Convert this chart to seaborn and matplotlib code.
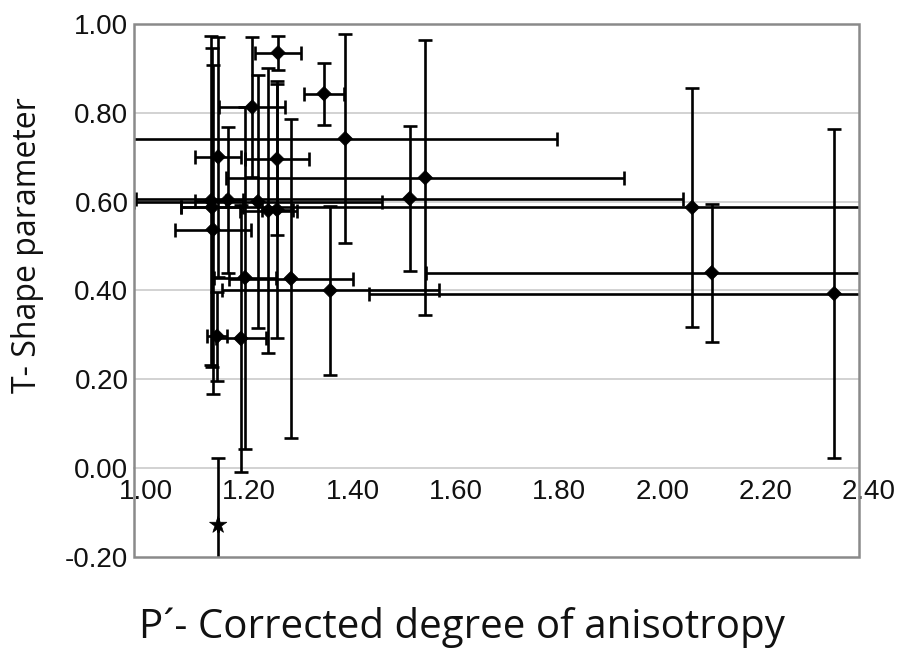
import matplotlib
matplotlib.use("Agg")
import matplotlib.pyplot as plt
import seaborn as sns
import numpy as np
import pandas as pd
from matplotlib.patches import Rectangle
from matplotlib.transforms import ScaledTranslation

# ---- data ----
p_corr = [1.147, 1.145, 1.149, 1.159, 1.157, 1.159, 1.178, 1.236, 1.256, 1.273,
          1.275, 1.225, 1.273, 1.211, 1.203, 1.364, 1.405, 2.077, 1.530, 1.560,
          2.115, 2.352, 1.376, 1.300]
t_shape = [0.587, 0.602, 0.537, 0.701, 0.297, -0.128, 0.604, 0.600, 0.580, 0.582,
           0.935, 0.813, 0.696, 0.429, 0.292, 0.843, 0.742, 0.587, 0.607, 0.654,
           0.440, 0.393, 0.400, 0.427]
p_err = [0.060, 0.030, 0.073, 0.045, 0.020, 0.000, 0.030, 0.240, 0.055, 0.030,
         0.044, 0.064, 0.062, 0.060, 0.048, 0.038, 0.410, 0.990, 0.530, 0.385,
         0.553, 0.900, 0.210, 0.120]
t_err = [0.360, 0.370, 0.370, 0.270, 0.100, 0.150, 0.165, 0.285, 0.320, 0.290,
         0.038, 0.157, 0.170, 0.385, 0.300, 0.070, 0.235, 0.270, 0.163, 0.310,
         0.155, 0.370, 0.190, 0.360]
kind = ["n"] * 5 + ["o"] + ["n"] * 18

x_ticks = [1.00, 1.20, 1.40, 1.60, 1.80, 2.00, 2.20, 2.40]
y_ticks = [-0.20, 0.00, 0.20, 0.40, 0.60, 0.80, 1.00]

df = pd.DataFrame({"P": p_corr, "T": t_shape, "Perr": p_err, "Terr": t_err, "kind": kind})

sns.set_style("white")
plt.rcParams["font.family"] = ["Liberation Sans", "DejaVu Sans"]

fig = plt.figure(figsize=(9.01, 6.49), dpi=100)
ax = fig.add_axes([134 / 901, 1 - 557 / 649, 725 / 901, 533 / 649])

ax.errorbar(df["P"], df["T"], xerr=df["Perr"], yerr=df["Terr"], fmt="none",
            ecolor="black", elinewidth=1.9, capsize=5, capthick=1.9, zorder=3)
sns.scatterplot(data=df, x="P", y="T", style="kind", markers={"n": "D", "o": "*"},
                size="kind", sizes={"n": 55, "o": 170}, color="black",
                edgecolor="black", linewidth=0.5, legend=False, ax=ax, zorder=4)

ax.set_xlim(0.996, 2.4)
ax.set_ylim(-0.2, 1.0)
ax.set_yticks(y_ticks)
ax.set_yticklabels([f"{v:.2f}" for v in y_ticks])
ax.set_xticks(x_ticks)
ax.set_xticklabels([f"{v:.2f}" for v in x_ticks])

# grid lines at y ticks
for v in [0.2, 0.4, 0.6, 0.8]:
    ax.axhline(v, color="#cfcfcf", lw=1.3, zorder=1)

# x axis drawn along y = 0
ax.spines["bottom"].set_position(("data", 0))
ax.spines["bottom"].set_color("#cfcfcf")
ax.spines["bottom"].set_linewidth(1.3)
for s in ["top", "right", "left"]:
    ax.spines[s].set_visible(False)
ax.add_patch(Rectangle((0, 0), 1, 1, transform=ax.transAxes, fill=False,
                       edgecolor="#8a8a8a", lw=1.8, clip_on=False, zorder=5))

ax.tick_params(axis="x", direction="in", length=4, color="#cfcfcf", pad=8,
               labelsize=20, labelcolor="#111111")
ax.tick_params(axis="y", direction="out", length=3, color="#8a8a8a", pad=1,
               labelsize=20, labelcolor="#111111")
for lab in ax.get_xticklabels():
    lab.set_transform(lab.get_transform() + ScaledTranslation(0.10, 0, fig.dpi_scale_trans))

ax.set_xlabel("P´- Corrected degree of anisotropy", fontsize=29, family=["Open Sans", "DejaVu Sans"],
              color="#111111")
ax.set_ylabel("T- Shape parameter", fontsize=23, family=["Open Sans", "DejaVu Sans"],
              color="#111111")
ax.xaxis.set_label_coords((462 - 134) / 725, (557 - 628) / 533)
ax.yaxis.set_label_coords((28 - 134) / 725, (557 - 245) / 533)
ax.xaxis.label.set_va("center")
ax.yaxis.label.set_va("center")

fig.savefig("out.png", dpi=100, facecolor="white")
